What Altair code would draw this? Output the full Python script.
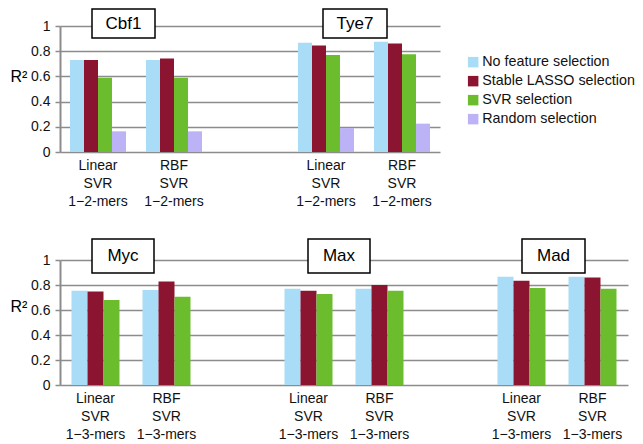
import altair as alt
import pandas as pd

FONT = "Liberation Sans"

series = ["No feature selection", "Stable LASSO selection", "SVR selection", "Random selection"]
colors = ["#a8dcf7", "#8b1530", "#6cbd2e", "#bbb3f5"]

# Top panel (1-2-mers), categories incl. an empty gap slot
top_cats = ["Cbf1 Linear", "Cbf1 RBF", "gap1", "Tye7 Linear", "Tye7 RBF"]
top_vals = {
    "No feature selection":   [0.73, 0.73, None, 0.867, 0.875],
    "Stable LASSO selection": [0.73, 0.742, None, 0.846, 0.862],
    "SVR selection":          [0.59, 0.59, None, 0.77, 0.776],
    "Random selection":       [0.164, 0.164, None, 0.19, 0.225],
}

# Bottom panel (1-3-mers)
bot_cats = ["Myc Linear", "Myc RBF", "gap1", "Max Linear", "Max RBF", "gap2", "Mad Linear", "Mad RBF"]
bot_series = series[:3]
bot_vals = {
    "No feature selection":   [0.754, 0.76, None, 0.77, 0.77, None, 0.866, 0.866],
    "Stable LASSO selection": [0.749, 0.829, None, 0.754, 0.80, None, 0.834, 0.86],
    "SVR selection":          [0.68, 0.706, None, 0.728, 0.754, None, 0.776, 0.77],
}

top_boxes = [("Cbf1", 32, 95), ("Tye7", 263, 327)]
bot_boxes = [("Myc", 32, 94), ("Max", 248, 310), ("Mad", 462, 525)]


def long_df(cats, vals):
    rows = []
    for s, vs in vals.items():
        for c, v in zip(cats, vs):
            if v is not None:
                rows.append({"cat": c, "series": s, "value": v})
    return pd.DataFrame(rows)


def make_panel(cats, vals, ser, boxes, box_y, kmer, width, height, pad_inner, show_legend, r2_y):
    df = long_df(cats, vals)
    label_expr = (
        "indexof(datum.value, 'gap') == 0 ? '' : "
        "[split(datum.value, ' ')[1], 'SVR', '" + kmer + "']"
    )
    legend = (
        alt.Legend(
            title=None, orient="none", legendX=406, legendY=29,
            symbolType="square", symbolSize=110, symbolStrokeWidth=0,
            labelFont=FONT, labelFontSize=14.3, labelColor="#111",
            rowPadding=4, padding=0, labelOffset=2,
        )
        if show_legend else None
    )
    bars = alt.Chart(df).mark_bar().encode(
        x=alt.X("cat:N", scale=alt.Scale(domain=cats, paddingInner=pad_inner, paddingOuter=pad_inner / 2),
                sort=cats,
                axis=alt.Axis(title=None, labelExpr=label_expr, labelAngle=0, ticks=False, domain=False,
                              labelFont=FONT, labelFontSize=14, labelColor="#111",
                              labelLineHeight=18, labelPadding=6, labelBaseline="top")),
        xOffset=alt.XOffset("series:N", scale=alt.Scale(domain=ser, paddingInner=0, paddingOuter=0), sort=ser),
        y=alt.Y("value:Q", scale=alt.Scale(domain=[0, 1], nice=False),
                axis=alt.Axis(title="R²", titleAngle=0, titleX=-50, titleY=r2_y, titleAlign="left",
                              titleBaseline="middle", titleFont=FONT, titleFontSize=16,
                              titleFontWeight="normal", titleColor="black",
                              values=[0, 0.2, 0.4, 0.6, 0.8, 1], format="~g", labelOverlap=False,
                              labelFont=FONT, labelFontSize=14, labelColor="#111", labelPadding=5,
                              tickSize=5, tickColor="#8c8c8c", tickWidth=1.5,
                              domainColor="#8c8c8c", domainWidth=2,
                              grid=True, gridColor="#8c8c8c", gridWidth=1.5)),
        color=alt.Color("series:N", scale=alt.Scale(domain=series, range=colors), legend=legend, sort=series),
    )
    layers = [bars]
    y0, y1 = box_y
    for name, x0, x1 in boxes:
        bdf = pd.DataFrame({"name": [name]})
        rect = alt.Chart(bdf).mark_rect(fill="white", stroke="black", strokeWidth=1.5).encode(
            x=alt.value(x0), x2=alt.value(x1), y=alt.value(y0), y2=alt.value(y1)
        )
        txt = alt.Chart(bdf).mark_text(font=FONT, fontSize=17, color="black", baseline="middle").encode(
            x=alt.value((x0 + x1) / 2), y=alt.value((y0 + y1) / 2), text="name:N"
        )
        layers += [rect, txt]
    return alt.layer(*layers).properties(width=width, height=height)


top = make_panel(top_cats, top_vals, series, top_boxes, (-17, 12), "1\u22122-mers",
                 380, 126, 20 / 76, True, 50)
bottom = make_panel(bot_cats, bot_vals, bot_series, bot_boxes, (-21, 13), "1\u22123-mers",
                    568, 125, 23 / 71, False, 46)

chart = alt.vconcat(top, bottom, spacing=30).resolve_scale(
    x="independent", xOffset="independent", color="independent"
).properties(
    padding={"left": 2, "top": 0, "right": 0, "bottom": 0}
).configure_view(stroke=None)

chart.save("out.html", embed_options={"renderer": "svg", "actions": False})
